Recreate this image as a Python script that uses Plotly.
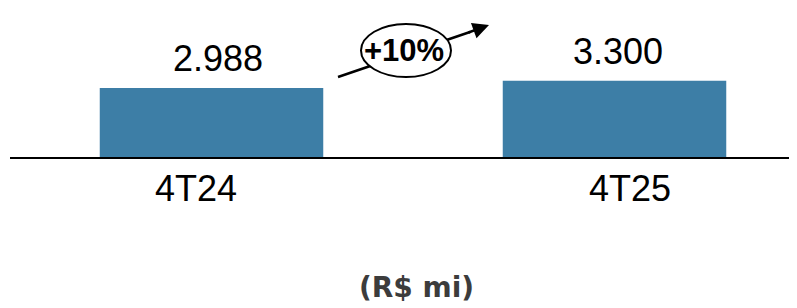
import plotly.graph_objects as go

categories = ["4T24", "4T25"]
values = [2988, 3300]
value_labels = ["2.988", "3.300"]
growth_label = "+10%"
unit_label = "(R$ mi)"

# page body has an 8px margin: build the figure 8px smaller and shift
OFF = 8
W, H = 797 - OFF, 308 - OFF
BAR_COLOR = "#3d7ea6"

def px(x):
    return (x - OFF) / W

def py(y):
    return 1 - (y - OFF) / H

# axis mapping (reference pixels): zero line at 158, bar centres at 211.5 and 614.5
zero_px = 158 - OFF
scale = 70.0 / values[0]  # px per unit
y_range = [-(H - zero_px) / scale, zero_px / scale]
c0, c1 = 211.5 - OFF, 614.5 - OFF
unit = c1 - c0
x_range = [-c0 / unit, 1 + (W - c1) / unit]

fig = go.Figure()
fig.add_trace(go.Bar(
    x=[0, 1], y=values, width=223.5 / unit,
    marker=dict(color=BAR_COLOR, line=dict(width=0)),
    hoverinfo="skip",
))

FONT = "Liberation Sans, Arial"
annotations = []
val_xshift = [6, 3]
for i, (lab, v) in enumerate(zip(value_labels, values)):
    annotations.append(dict(
        x=i, y=v, xref="x", yref="y", text=lab, showarrow=False,
        yanchor="bottom", yshift=7, xshift=val_xshift[i],
        font=dict(family=FONT, size=36, color="#000000"),
    ))
cat_xshift = [-15.5, 15.5]
for i, cat in enumerate(categories):
    annotations.append(dict(
        x=i, y=0, xref="x", yref="y", text=cat, showarrow=False,
        yanchor="top", yshift=-8, xshift=cat_xshift[i],
        font=dict(family=FONT, size=36, color="#000000"),
    ))
# growth text
annotations.append(dict(
    x=px(404), y=py(51), xref="paper", yref="paper", text="<b>%s</b>" % growth_label,
    showarrow=False, xanchor="center", yanchor="middle",
    font=dict(family=FONT, size=31, color="#000000"),
))
# arrowhead
annotations.append(dict(
    x=px(489), y=py(25), xref="paper", yref="paper", text="",
    showarrow=True, ax=-22, ay=8, axref="pixel", ayref="pixel",
    arrowhead=2, arrowsize=1.3, arrowwidth=2.5, arrowcolor="#000000",
))
# unit label
annotations.append(dict(
    x=px(416), y=py(287), xref="paper", yref="paper", text="<b>%s</b>" % unit_label,
    showarrow=False, xanchor="center", yanchor="middle",
    font=dict(family="DejaVu Sans", size=28, color="#3c3c3c"),
))

shapes = [
    # baseline
    dict(type="line", xref="paper", yref="y", x0=px(10), x1=1, y0=0, y1=0,
         line=dict(color="#000000", width=2), layer="above"),
    # arrow shaft
    dict(type="line", xref="paper", yref="paper", x0=px(338), y0=py(77), x1=px(470), y1=py(32),
         line=dict(color="#000000", width=2.5), layer="above"),
    # ellipse
    dict(type="circle", xref="paper", yref="paper", x0=px(361), x1=px(451), y0=py(77), y1=py(24),
         fillcolor="#ffffff", line=dict(color="#000000", width=2), layer="above"),
]

fig.update_layout(
    width=W, height=H,
    margin=dict(l=0, r=0, t=0, b=0),
    paper_bgcolor="#ffffff", plot_bgcolor="#ffffff",
    showlegend=False,
    xaxis=dict(range=x_range, visible=False, fixedrange=True),
    yaxis=dict(range=y_range, visible=False, fixedrange=True),
    annotations=annotations,
    shapes=shapes,
)

fig.write_html("out.html")
